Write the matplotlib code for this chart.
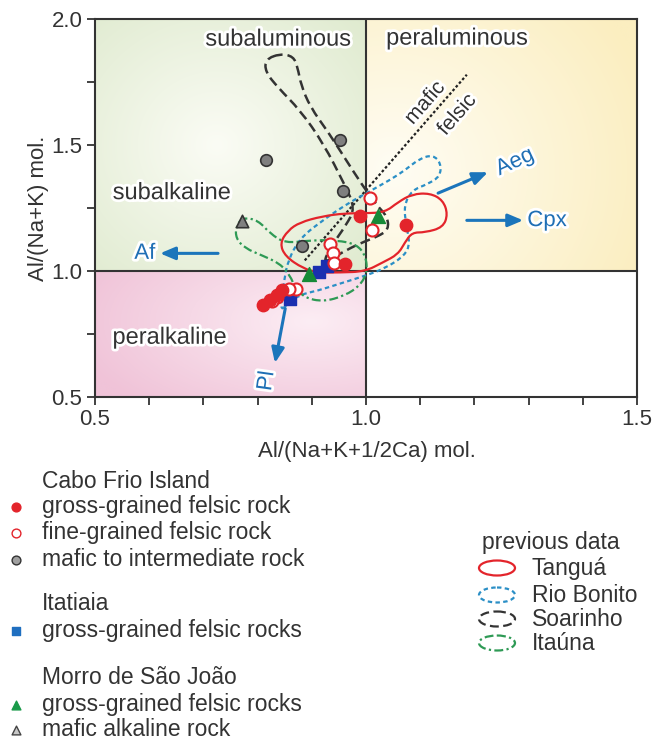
import numpy as np
import matplotlib.pyplot as plt
import matplotlib.patheffects as pe
from matplotlib.patches import Ellipse, PathPatch
from matplotlib.path import Path
from matplotlib.colors import to_rgb

plt.rcParams['font.family'] = ['Liberation Sans', 'DejaVu Sans']

# Cabo Frio Island
cf_gross_x = [0.989, 1.074, 0.961, 0.810, 0.823, 0.836, 0.845]
cf_gross_y = [1.217, 1.181, 1.026, 0.867, 0.886, 0.906, 0.926]
cf_fine_x = [1.007, 1.011, 0.934, 0.939, 0.941, 0.871, 0.858, 0.836, 0.826]
cf_fine_y = [1.289, 1.161, 1.106, 1.070, 1.030, 0.930, 0.928, 0.895, 0.882]
cf_mafic_x = [0.816, 0.952, 0.958, 0.882]
cf_mafic_y = [1.440, 1.520, 1.317, 1.098]
# Itatiaia
it_gross_x = [0.913, 0.928, 0.860]
it_gross_y = [0.998, 1.020, 0.890]
# Morro de Sao Joao
msj_gross_x = [1.022, 0.895]
msj_gross_y = [1.217, 0.990]
msj_mafic_x = [0.771]
msj_mafic_y = [1.197]

# previous data fields, outline vertices (x, y)
tangua = [(0.884, 1.010), (0.851, 1.058), (0.841, 1.110), (0.856, 1.161), (0.878, 1.193),
          (0.919, 1.217), (0.961, 1.229), (0.998, 1.229), (1.035, 1.233), (1.059, 1.273),
          (1.085, 1.305), (1.118, 1.309), (1.142, 1.281), (1.151, 1.225), (1.142, 1.173),
          (1.109, 1.153), (1.085, 1.153), (1.072, 1.114), (1.059, 1.066), (1.031, 1.034),
          (0.998, 0.998), (0.952, 0.994), (0.911, 0.994)]
rio_bonito = [(0.843, 0.843), (0.845, 0.898), (0.849, 0.962), (0.856, 1.042), (0.878, 1.129),
              (0.915, 1.193), (0.961, 1.261), (1.004, 1.313), (1.044, 1.361), (1.072, 1.400),
              (1.100, 1.448), (1.124, 1.460), (1.138, 1.428), (1.137, 1.376), (1.114, 1.345),
              (1.085, 1.321), (1.070, 1.261), (1.074, 1.181), (1.081, 1.110), (1.072, 1.062),
              (1.035, 1.010), (0.994, 0.978), (0.952, 0.950), (0.911, 0.922), (0.878, 0.906),
              (0.856, 0.871)]
soarinho = [(0.841, 1.862), (0.866, 1.852), (0.874, 1.807), (0.880, 1.739), (0.897, 1.651),
            (0.930, 1.552), (0.961, 1.448), (0.993, 1.341), (1.020, 1.261), (1.039, 1.217),
            (1.042, 1.165), (1.022, 1.137), (0.989, 1.110), (0.956, 1.074), (0.919, 1.026),
            (0.937, 1.102), (0.963, 1.181), (0.980, 1.249), (0.961, 1.341), (0.921, 1.508),
            (0.878, 1.639), (0.838, 1.727), (0.814, 1.791), (0.815, 1.840)]
itauna = [(0.773, 1.213), (0.801, 1.201), (0.823, 1.149), (0.851, 1.110), (0.897, 1.122),
          (0.946, 1.122), (0.983, 1.106), (1.000, 1.058), (1.002, 0.994), (0.989, 0.942),
          (0.961, 0.902), (0.921, 0.878), (0.887, 0.894), (0.869, 0.934), (0.860, 0.982),
          (0.841, 1.030), (0.808, 1.062), (0.777, 1.090), (0.760, 1.129), (0.760, 1.177)]

divider_x = [0.887, 1.186]
divider_y = [1.042, 1.779]

# vector labels: name, start, end, label position, rotation
vectors = [("Af", (0.727, 1.070), (0.620, 1.070), (0.592, 1.070), 0),
           ("Pl", (0.851, 0.851), (0.832, 0.635), (0.817, 0.564), 82),
           ("Aeg", (1.133, 1.309), (1.225, 1.392), (1.275, 1.432), 25),
           ("Cpx", (1.186, 1.201), (1.290, 1.201), (1.334, 1.200), 0)]

fields = [("subaluminous", 0.838, 1.918), ("peraluminous", 1.168, 1.922),
          ("subalkaline", 0.642, 1.309), ("peralkaline", 0.638, 0.735)]

RED = "#e3242b"
BLUE_ARROW = "#1b75bb"
TXT = "#333333"


def shade(ax, ext, edge, mid, cx, cy, r):
    xs = np.linspace(0, 1, 150)
    X, Y = np.meshgrid(xs, xs)
    d = np.clip(np.hypot(X - cx, Y - cy) / r, 0, 1)[..., None]
    img = np.array(to_rgb(mid)) * (1 - d) + np.array(to_rgb(edge)) * d
    ax.imshow(img, extent=ext, origin="lower", aspect="auto", zorder=0, interpolation="bilinear")


def outline(ax, pts, **kw):
    p = np.array(pts)
    mids = (p + np.roll(p, -1, axis=0)) / 2
    verts = [mids[-1]]
    codes = [Path.MOVETO]
    for i in range(len(p)):
        verts += [p[i], mids[i]]
        codes += [Path.CURVE3, Path.CURVE3]
    ax.add_patch(PathPatch(Path(verts, codes), fill=False, zorder=3, **kw))


fig = plt.figure(figsize=(6.54, 7.4), dpi=100)
ax = fig.add_axes([95 / 654, 1 - 397 / 740, 542 / 654, 378 / 740])

shade(ax, [0.5, 1.0, 1.0, 2.0], "#dde9cc", "#fbfcf5", 0.45, 0.5, 0.8)
shade(ax, [1.0, 1.5, 1.0, 2.0], "#fbeec0", "#fffdf4", 0.1, 0.4, 1.0)
shade(ax, [0.5, 1.0, 0.5, 1.0], "#f0c3d8", "#fcedf4", 0.8, 0.6, 0.9)

ax.axvline(1.0, ymin=0, ymax=1, color=TXT, lw=1.5, zorder=2)
ax.axhline(1.0, color=TXT, lw=1.5, zorder=2)

ax.plot(divider_x, divider_y, color="#222222", lw=1.6, ls=(0, (1.2, 1.0)), zorder=3)

outline(ax, soarinho, edgecolor="#333333", lw=1.8, ls=(0, (4, 2)))
outline(ax, rio_bonito, edgecolor="#2b8fc6", lw=1.6, ls=(0, (2, 1.5)))
outline(ax, itauna, edgecolor="#2e9a55", lw=1.6, ls=(0, (4, 1.5, 1, 1.5)))
outline(ax, tangua, edgecolor=RED, lw=1.6)

halo = [pe.withStroke(linewidth=4, foreground="white")]
for name, x, y in fields:
    ax.text(x, y, name, fontsize=17, color=TXT, ha="center", va="center",
            path_effects=halo, zorder=4)

ax.text(1.109, 1.667, "mafic", fontsize=15, color=TXT, rotation=49,
        ha="center", va="center", path_effects=halo, zorder=4)
ax.text(1.168, 1.620, "felsic", fontsize=15, color=TXT, rotation=49,
        ha="center", va="center", path_effects=halo, zorder=4)

for name, s, e, t, rot in vectors:
    ax.annotate("", xy=e, xytext=s, zorder=5,
                arrowprops=dict(arrowstyle="-|>,head_length=0.9,head_width=0.38",
                                color=BLUE_ARROW, lw=2.2, shrinkA=0, shrinkB=0))
    ax.text(t[0], t[1], name, fontsize=16, color="#1f6fb5", rotation=rot,
            ha="center", va="center", path_effects=halo, zorder=5)

ax.scatter(cf_mafic_x, cf_mafic_y, s=70, c="#7f7f7f", edgecolors="#333333", lw=1.2, zorder=6)
ax.scatter(msj_mafic_x, msj_mafic_y, s=80, marker="^", c="#808080", edgecolors="#333333", lw=1.2, zorder=6)
ax.scatter(it_gross_x, it_gross_y, s=80, marker="s", c="#1a2fb0", edgecolors="#1a2fb0", zorder=6)
ax.scatter(msj_gross_x, msj_gross_y, s=100, marker="^", c="#168a37", edgecolors="#168a37", zorder=7)
ax.scatter(cf_fine_x, cf_fine_y, s=75, facecolors="white", edgecolors=RED, lw=1.5, zorder=7)
ax.scatter(cf_gross_x, cf_gross_y, s=80, c=RED, edgecolors=RED, zorder=8)

ax.set_xlim(0.5, 1.5)
ax.set_ylim(0.5, 2.0)
ax.set_xticks([0.5, 1.0, 1.5])
ax.set_xticklabels(["0.5", "1.0", "1.5"])
ax.set_xticks(np.arange(0.6, 1.45, 0.1), minor=True)
ax.set_yticks([0.5, 1.0, 1.5, 2.0])
ax.set_yticklabels(["0.5", "1.0", "1.5", "2.0"])
ax.set_yticks([0.75, 1.25, 1.75], minor=True)
ax.tick_params(which="both", direction="out", length=6, width=1.3, color=TXT,
               labelcolor=TXT, labelsize=16, pad=3)
for sp in ax.spines.values():
    sp.set_color(TXT)
    sp.set_linewidth(1.5)
    sp.set_zorder(9)

ax.set_xlabel("Al/(Na+K+1/2Ca) mol.", fontsize=16, color=TXT)
ax.xaxis.set_label_coords(0.502, -0.117)
ax.set_ylabel("Al/(Na+K) mol.", fontsize=16, color=TXT)
ax.yaxis.set_label_coords(-0.085, 0.5)

# legend drawn in figure pixel space
leg = fig.add_axes([0, 0, 1, 1])
leg.set_xlim(0, 654)
leg.set_ylim(740, 0)
leg.axis("off")

left_items = [("Cabo Frio Island", 482, None),
              ("gross-grained felsic rock", 507, dict(marker="o", c=RED, edgecolors=RED)),
              ("fine-grained felsic rock", 533, dict(marker="o", facecolors="white", edgecolors=RED, lw=1)),
              ("mafic to intermediate rock", 560, dict(marker="o", c="#a0a0a0", edgecolors="#333333", lw=1)),
              ("Itatiaia", 604, None),
              ("gross-grained felsic rocks", 631, dict(marker="s", c="#1f6fc0", edgecolors="#1f6fc0")),
              ("Morro de São João", 678, None),
              ("gross-grained felsic rocks", 705, dict(marker="^", c="#1a9a4a", edgecolors="#1a9a4a")),
              ("mafic alkaline rock", 730, dict(marker="^", c="#c8c8c8", edgecolors="#444444", lw=1))]
for label, y, style in left_items:
    leg.text(42, y, label, fontsize=16.5, color=TXT, va="center", ha="left")
    if style:
        leg.scatter([16], [y], s=40, **style)

right_items = [("Tanguá", 568, RED, "-"),
               ("Rio Bonito", 595, "#2b8fc6", (0, (2, 1.5))),
               ("Soarinho", 619, "#333333", (0, (4, 2))),
               ("Itaúna", 643, "#2e9a55", (0, (4, 1.5, 1, 1.5)))]
leg.text(482, 542, "previous data", fontsize=16.5, color=TXT, va="center", ha="left")
for label, y, col, ls in right_items:
    leg.add_patch(Ellipse((497, y), 36, 15, fill=False, edgecolor=col, lw=1.6, ls=ls))
    leg.text(532, y, label, fontsize=16.5, color=TXT, va="center", ha="left")

fig.savefig("out.png", dpi=100)
